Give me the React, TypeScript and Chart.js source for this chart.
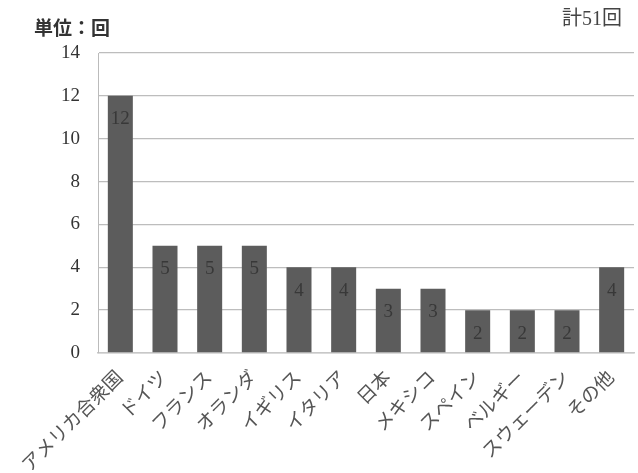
import React, { useEffect, useRef } from "react";
import { Chart, registerables } from "chart.js";
Chart.register(...registerables);

const categories = ["アメリカ合衆国", "ドイツ", "フランス", "オランダ", "イギリス", "イタリア", "日本", "メキシコ", "スペイン", "ベルギー", "スウェーデン", "その他"];
const counts = [12, 5, 5, 5, 4, 4, 3, 3, 2, 2, 2, 4];
const unitLabel = "単位：回";
const totalLabel = "計51回";

const FONT = "'Liberation Serif', 'Noto Sans CJK JP', serif";

const textPlugin = {
  id: "texts",
  afterDatasetsDraw(chart: any) {
    const ctx = chart.ctx;
    const meta = chart.getDatasetMeta(0);
    ctx.save();
    ctx.fillStyle = "#383838";
    ctx.font = `19px ${FONT}`;
    ctx.textAlign = "center";
    ctx.textBaseline = "top";
    meta.data.forEach((bar: any, i: number) => {
      ctx.fillText(String(counts[i]), bar.x, bar.y + 14);
    });
    ctx.fillStyle = "#333";
    ctx.font = `bold 19px ${FONT}`;
    ctx.textAlign = "left";
    ctx.textBaseline = "middle";
    ctx.fillText(unitLabel, 34, 30);
    ctx.font = `20px ${FONT}`;
    ctx.fillStyle = "#444";
    ctx.textAlign = "right";
    ctx.fillText(totalLabel, 622, 20);
    ctx.restore();
  },
};

export default function App() {
  const ref = useRef<HTMLCanvasElement>(null);
  useEffect(() => {
    document.body.style.margin = "0";
    const chart = new Chart(ref.current!, {
      type: "bar",
      data: {
        labels: categories,
        datasets: [
          {
            data: counts,
            backgroundColor: "#5c5c5c",
            categoryPercentage: 1,
            barPercentage: 0.56,
          },
        ],
      },
      options: {
        animation: false,
        responsive: false,
        layout: { padding: { top: 53, right: 4, left: 0, bottom: 0 } },
        plugins: { legend: { display: false }, tooltip: { enabled: false } },
        scales: {
          x: {
            grid: { display: false },
            border: { color: "#c8c8c8", width: 1.5 },
            ticks: {
              color: "#555",
              font: { family: FONT, size: 19 },
              maxRotation: 45,
              minRotation: 45,
              autoSkip: false,
              padding: 6,
            },
            afterFit(scale: any) {
              scale.height = 120;
            },
          },
          y: {
            min: 0,
            max: 14,
            ticks: {
              stepSize: 2,
              color: "#333",
              font: { family: FONT, size: 19 },
              padding: 18,
            },
            grid: { color: "#bdbdbd", drawTicks: false, lineWidth: 1.3 },
            border: { color: "#bbbbbb" },
            afterFit(scale: any) {
              scale.width = 98;
            },
          },
        },
      },
      plugins: [textPlugin],
    });
    return () => chart.destroy();
  }, []);
  return (
    <div style={{ width: 638, height: 473 }}>
      <canvas ref={ref} width={638} height={473} />
    </div>
  );
}
